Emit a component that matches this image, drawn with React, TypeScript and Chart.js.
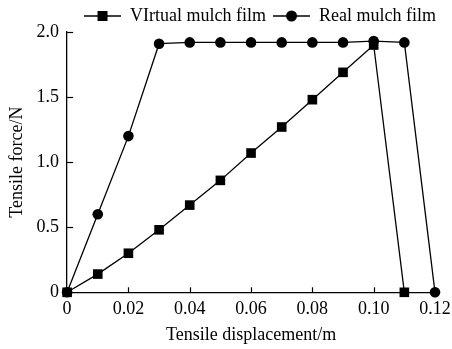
import React, { useEffect, useRef } from "react";
import { Chart, registerables } from "chart.js";

Chart.register(...registerables);

const displacement = [0, 0.01, 0.02, 0.03, 0.04, 0.05, 0.06, 0.07, 0.08, 0.09, 0.1, 0.11, 0.12];
const virtualForce = [0, 0.14, 0.3, 0.48, 0.67, 0.86, 1.07, 1.27, 1.48, 1.69, 1.9, 0];
const realForce = [0, 0.6, 1.2, 1.91, 1.92, 1.92, 1.92, 1.92, 1.92, 1.92, 1.93, 1.92, 0];
const seriesNames = ["VIrtual mulch film", "Real mulch film"];
const xTickLabels = ["0", "0.02", "0.04", "0.06", "0.08", "0.10", "0.12"];
const yTickLabels = ["0", "0.5", "1.0", "1.5", "2.0"];
const xTitle = "Tensile displacement/m";
const yTitle = "Tensile force/N";

const FONT = "'Liberation Serif', 'Times New Roman', serif";

function makeLegendIcon(style: "rect" | "circle"): HTMLCanvasElement {
  const c = document.createElement("canvas");
  c.width = 37;
  c.height = 14;
  const ctx = c.getContext("2d")!;
  ctx.strokeStyle = "#000";
  ctx.lineWidth = 1.5;
  ctx.beginPath();
  ctx.moveTo(0, 7);
  ctx.lineTo(37, 7);
  ctx.stroke();
  ctx.fillStyle = "#000";
  if (style === "rect") {
    ctx.fillRect(18.5 - 5, 7 - 5, 10, 10);
  } else {
    ctx.beginPath();
    ctx.arc(18.5, 7, 5.5, 0, Math.PI * 2);
    ctx.fill();
  }
  return c;
}

const inwardTicks = {
  id: "inwardTicks",
  afterDatasetsDraw(chart: any) {
    const ctx = chart.ctx;
    const xs = chart.scales.x;
    const ys = chart.scales.y;
    ctx.save();
    ctx.strokeStyle = "#000";
    ctx.lineWidth = 1.2;
    xs.ticks.forEach((t: any) => {
      const px = Math.round(xs.getPixelForValue(t.value)) + 0.5;
      ctx.beginPath();
      ctx.moveTo(px, ys.bottom);
      ctx.lineTo(px, ys.bottom - 5);
      ctx.stroke();
    });
    ys.ticks.forEach((t: any) => {
      const py = Math.round(ys.getPixelForValue(t.value)) + 0.5;
      ctx.beginPath();
      ctx.moveTo(xs.left, py);
      ctx.lineTo(xs.left + 6, py);
      ctx.stroke();
    });
    ctx.restore();
  },
};

const shiftLegend = {
  id: "shiftLegend",
  afterLayout(chart: any) {
    const l = chart.legend;
    if (l) {
      l.top += 3;
      l.bottom += 3;
      l.left -= 9;
      l.right -= 9;
    }
  },
};

export default function App() {
  const ref = useRef<HTMLCanvasElement | null>(null);

  useEffect(() => {
    if (!ref.current) return;
    const icons = [makeLegendIcon("rect"), makeLegendIcon("circle")];
    const chart = new Chart(ref.current, {
      type: "line",
      data: {
        datasets: [
          {
            label: seriesNames[0],
            data: virtualForce.map((v, i) => ({ x: displacement[i], y: v })),
            borderColor: "#000",
            backgroundColor: "#000",
            borderWidth: 1.3,
            pointStyle: "rect",
            pointRadius: 6.8,
            pointBorderWidth: 0,
            tension: 0,
            clip: false,
          },
          {
            label: seriesNames[1],
            data: realForce.map((v, i) => ({ x: displacement[i], y: v })),
            borderColor: "#000",
            backgroundColor: "#000",
            borderWidth: 1.3,
            pointStyle: "circle",
            pointRadius: 5.3,
            pointBorderWidth: 0,
            tension: 0,
            clip: false,
          },
        ],
      },
      options: {
        animation: false,
        responsive: true,
        maintainAspectRatio: false,
        layout: { padding: { left: 1, right: 0, top: -3, bottom: 3 } },
        plugins: {
          tooltip: { enabled: false },
          legend: {
            display: true,
            position: "top",
            align: "end",
            labels: {
              color: "#000",
              font: { family: FONT, size: 18 },
              usePointStyle: true,
              pointStyleWidth: 37,
              boxHeight: 14,
              padding: 7,
              generateLabels: (ch: any) =>
                ch.data.datasets.map((ds: any, i: number) => ({
                  text: ds.label,
                  pointStyle: icons[i],
                  fillStyle: "#000",
                  strokeStyle: "#000",
                  lineWidth: 0,
                  hidden: false,
                  datasetIndex: i,
                  fontColor: "#000",
                })),
            },
          },
        },
        scales: {
          x: {
            type: "linear",
            min: 0,
            max: 0.12,
            grid: { display: false, drawTicks: false },
            border: { display: true, color: "#000", width: 1.3 },
            afterFit: (scale: any) => {
              scale.paddingRight = 17;
            },
            ticks: {
              stepSize: 0.02,
              color: "#000",
              font: { family: FONT, size: 18 },
              padding: 6,
              maxRotation: 0,
              callback: (v: any) => {
                const idx = Math.round(Number(v) / 0.02);
                return xTickLabels[idx] ?? "";
              },
            },
            title: {
              display: true,
              text: xTitle,
              color: "#000",
              font: { family: FONT, size: 18 },
              padding: { top: -1.5, bottom: 0 },
            },
          },
          y: {
            type: "linear",
            min: 0,
            max: 2,
            grid: { display: false, drawTicks: false },
            border: { display: true, color: "#000", width: 1.3 },
            ticks: {
              stepSize: 0.5,
              color: "#000",
              font: { family: FONT, size: 18 },
              padding: 8,
              callback: (v: any) => {
                const idx = Math.round(Number(v) / 0.5);
                return yTickLabels[idx] ?? "";
              },
            },
            title: {
              display: true,
              text: yTitle,
              color: "#000",
              font: { family: FONT, size: 18 },
              padding: { top: 5, bottom: 1 },
            },
          },
        },
      },
      plugins: [inwardTicks, shiftLegend],
    });
    return () => chart.destroy();
  }, []);

  return (
    <div style={{ position: "fixed", left: 0, top: 0, width: 452, height: 349, background: "#fff" }}>
      <canvas ref={ref} />
    </div>
  );
}
